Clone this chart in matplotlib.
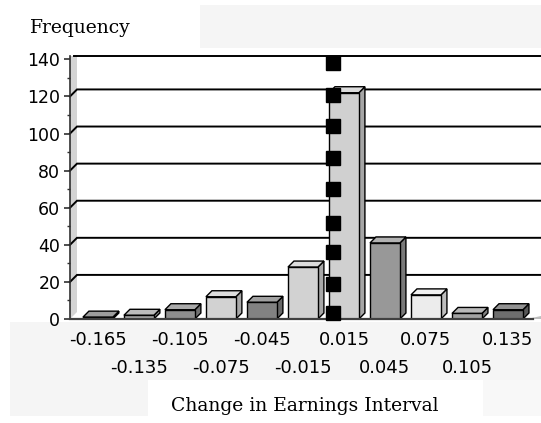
import matplotlib
matplotlib.use("Agg")
import matplotlib.pyplot as plt
from matplotlib.patches import Polygon, Rectangle
from matplotlib.ticker import MultipleLocator

# Histogram of changes in earnings, binned in 0.03-wide intervals
intervals = ["-0.165", "-0.135", "-0.105", "-0.075", "-0.045", "-0.015",
             "0.015", "0.045", "0.075", "0.105", "0.135"]
frequency = [1, 2, 5, 12, 9, 28, 122, 41, 13, 3, 5]
bar_colors = ["#7c7c7c", "#a6a6a6", "#8e8e8e", "#d2d2d2", "#828282", "#d2d2d2",
              "#d0d0d0", "#989898", "#ececec", "#a2a2a2", "#6e6e6e"]

# Marker column drawn at the zero-change boundary
first_bin = -0.165
bin_width = 0.03
zero_change = 0.0
marker_heights = [3, 19, 36, 52, 70, 87, 104, 121, 138]

y_ticks = [0, 20, 40, 60, 80, 100, 120, 140]

W, H = 541, 423
fig = plt.figure(figsize=(W / 100, H / 100), dpi=100)
fig.patch.set_facecolor("white")

# light panels behind the titles and tick labels
panel = "#f5f5f5"
def fig_rect(x0, y0, x1, y1, color):
    fig.patches.append(Rectangle((x0 / W, 1 - y1 / H), (x1 - x0) / W, (y1 - y0) / H,
                                 transform=fig.transFigure, facecolor=color,
                                 edgecolor="none", zorder=-5))
fig_rect(200, 5, 541, 48, panel)
fig_rect(10, 322, 541, 380, panel)
fig_rect(10, 380, 148, 416, panel)
fig_rect(483, 380, 541, 416, "#f8f8f8")

left_px, right_px, base_px, top_px = 70, 533, 319, 56
ax = fig.add_axes([left_px / W, (H - base_px) / H, (right_px - left_px) / W,
                   (base_px - top_px) / H])
ax.set_facecolor("none")
xmin, xmax = -0.68, 10.61
ymax = 141.8
ax.set_xlim(xmin, xmax)
ax.set_ylim(0, ymax)

px_x = (right_px - left_px) / (xmax - xmin)
px_y = (base_px - top_px) / ymax

# back wall depth offset and bar depth offset
gdx, gdy = 7 / px_x, 7 / px_y
bdx, bdy = 6 / px_x, 6 / px_y
x_edge = xmin + (W - left_px) / px_x

# white plot area (covers the label panel where it overlaps)
ax.add_patch(Rectangle((xmin, 0), x_edge - xmin, ymax, facecolor="white",
                       edgecolor="none", clip_on=False, zorder=0))

# left side wall
ax.add_patch(Polygon([(xmin, 0), (xmin + gdx, gdy), (xmin + gdx, ymax), (xmin, ymax)],
                     closed=True, facecolor="#d4d4d4", edgecolor="none",
                     clip_on=False, zorder=1))

# gridlines on the back wall
for v in y_ticks[1:-1]:
    ax.plot([xmin, xmin + gdx, x_edge], [v, v + gdy, v + gdy], color="black",
            lw=1.4, clip_on=False, zorder=2, solid_joinstyle="miter")
ax.plot([xmin + gdx * 0.6, x_edge], [ymax, ymax], color="black", lw=1.4,
        clip_on=False, zorder=2)

# floor edge at the right
ax.add_patch(Polygon([(xmax - 0.15, 0), (x_edge, 0), (x_edge, gdy * 0.5)],
                     closed=True, facecolor="#bdbdbd", edgecolor="none",
                     clip_on=False, zorder=2))

def shade(hex_color, f):
    c = matplotlib.colors.to_rgb(hex_color)
    if f >= 1:
        return tuple(min(1, x + (1 - x) * (f - 1)) for x in c)
    return tuple(x * f for x in c)

w = 0.73
for i, (v, col) in enumerate(zip(frequency, bar_colors)):
    x0, x1 = i - w / 2, i + w / 2
    # side face
    ax.add_patch(Polygon([(x1, 0), (x1 + bdx, bdy), (x1 + bdx, v + bdy), (x1, v)],
                         closed=True, facecolor=shade(col, 0.8), edgecolor="black",
                         lw=1.0, zorder=3, joinstyle="miter"))
    # top face
    ax.add_patch(Polygon([(x0, v), (x0 + bdx, v + bdy), (x1 + bdx, v + bdy), (x1, v)],
                         closed=True, facecolor=shade(col, 1.25), edgecolor="black",
                         lw=1.0, zorder=3, joinstyle="miter"))
    # front face
    ax.bar(i, v, width=w, color=col, edgecolor="black", linewidth=1.0, zorder=4)

# zero-change marker column, set on the back plane
marker_x = (zero_change - first_bin) / bin_width + 10 / px_x
ax.plot([marker_x] * len(marker_heights), marker_heights, linestyle="none",
        marker="s", markersize=10, color="black", zorder=6, clip_on=False)

# axes styling
for s in ("top", "right"):
    ax.spines[s].set_visible(False)
ax.spines["left"].set_color("#303030")
ax.spines["left"].set_linewidth(1.2)
ax.spines["bottom"].set_color("#404040")
ax.spines["bottom"].set_linewidth(1.6)
ax.spines["bottom"].set_zorder(5)
ax.set_yticks(y_ticks)
ax.yaxis.set_minor_locator(MultipleLocator(10))
ax.tick_params(axis="y", which="major", length=4, width=1.2, color="#303030",
               labelsize=12.5, pad=3)
ax.tick_params(axis="y", which="minor", length=2.5, width=1.0, color="#303030")
ax.set_yticklabels([str(t) for t in y_ticks], fontfamily="DejaVu Sans")
ax.set_xticks([])

# staggered interval labels
label_tf = ax.get_xaxis_transform()
for i, lab in enumerate(intervals):
    row_px = 340 if i % 2 == 0 else 368
    ax.text(i, -(row_px - base_px) / (base_px - top_px), lab, transform=label_tf,
            ha="center", va="center", fontsize=13, fontfamily="DejaVu Sans",
            color="black", clip_on=False, zorder=7)

fig.text(30 / W, 1 - 28 / H, "Frequency", fontsize=13.5, fontfamily="DejaVu Serif",
         ha="left", va="center")
fig.text(305 / W, 1 - 406 / H, "Change in Earnings Interval", fontsize=13.5,
         fontfamily="DejaVu Serif", ha="center", va="center")

fig.savefig("out.png", dpi=100)
